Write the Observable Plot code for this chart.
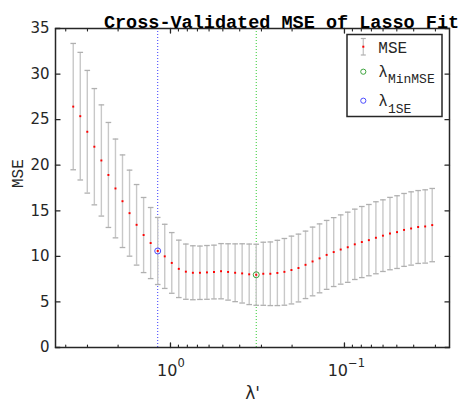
<!DOCTYPE html>
<html>
<head>
<meta charset="utf-8">
<script src="https://cdn.jsdelivr.net/npm/d3@7"></script>
<script src="https://cdn.jsdelivr.net/npm/@observablehq/plot@0.6"></script>
<style>
  html, body { margin: 0; padding: 0; background: #fff; }
  svg { display: block; }
</style>
</head>
<body>
<div id="chart"></div>
<script>
// ---- data ----
const lambda = [3.622, 3.300, 3.007, 2.739, 2.496, 2.274, 2.071, 1.887, 1.719, 1.566,
  1.427, 1.300, 1.184, 1.079, 0.9831, 0.8956, 0.8158, 0.7434, 0.6771, 0.6171,
  0.5623, 0.5120, 0.4666, 0.4250, 0.3873, 0.3528, 0.3214, 0.2928, 0.2667, 0.2430,
  0.2214, 0.2017, 0.1838, 0.1674, 0.1525, 0.1390, 0.1266, 0.1153, 0.1051, 0.09574,
  0.08722, 0.07945, 0.07238, 0.06595, 0.06009, 0.05474, 0.04986, 0.04544, 0.04139, 0.03771,
  0.03436, 0.03130];
const mse = [26.43, 25.38, 23.67, 22.03, 20.52, 18.93, 17.45, 16.05, 14.74, 13.46,
  12.34, 11.46, 10.59, 10.00, 9.28, 8.63, 8.32, 8.20, 8.20, 8.24,
  8.28, 8.37, 8.29, 8.20, 8.13, 8.03, 7.98, 8.09, 8.09, 8.18,
  8.30, 8.50, 8.72, 9.07, 9.44, 9.78, 10.16, 10.47, 10.75, 11.00,
  11.32, 11.57, 11.78, 12.04, 12.27, 12.50, 12.66, 12.90, 13.06, 13.22,
  13.28, 13.43];
const se = [6.93, 7.00, 6.73, 6.38, 6.10, 5.76, 5.42, 5.08, 4.72, 4.42,
  4.12, 3.90, 3.68, 3.52, 3.33, 3.15, 3.03, 2.96, 2.93, 2.95,
  2.95, 3.03, 3.09, 3.17, 3.25, 3.32, 3.35, 3.46, 3.49, 3.58,
  3.66, 3.72, 3.72, 3.70, 3.77, 3.78, 3.78, 3.78, 3.80, 3.85,
  3.86, 3.90, 3.91, 3.95, 3.93, 3.97, 3.99, 4.00, 4.02, 4.00,
  4.02, 4.02];
const indexMinMSE = 26;
const index1SE = 12;

const xDomain = [4.58, 0.0249];
const yDomain = [0, 35];
const yTicks = [0, 5, 10, 15, 20, 25, 30, 35];
const xMajorTicks = [1, 0.1];
const xTickBase = ["10", "10"];
const xTickExponent = ["0", "−1"];
const xMinorTicks = [4, 3, 2, 0.9, 0.8, 0.7, 0.6, 0.5, 0.4, 0.3, 0.2,
  0.09, 0.08, 0.07, 0.06, 0.05, 0.04, 0.03];

const titleText = "Cross-Validated MSE of Lasso Fit";
const xLabelText = "λ'";
const yLabelText = "MSE";
const legendMain = ["MSE", "λ", "λ"];
const legendSub = ["", "MinMSE", "1SE"];

// ---- build table ----
const rows = lambda.map((l, i) => ({lambda: l, mse: mse[i], lo: mse[i] - se[i], hi: mse[i] + se[i]}));

const cap = {draw(ctx) { ctx.moveTo(-2.8, 0); ctx.lineTo(2.8, 0); }};
const tickShape = {draw(ctx, l) { ctx.moveTo(0, 0); ctx.lineTo(0, -l); }};
const axisColor = "#262626";
const monoFont = "'Liberation Mono', 'DejaVu Sans Mono', monospace";

// inward tick marks drawn as short vectors anchored on the frame
function ticksX(values, anchor, len, sw) {
  return Plot.vector(values, {x: d => d, frameAnchor: anchor, rotate: anchor === "bottom" ? 0 : 180,
    length: len, anchor: "start", shape: tickShape, stroke: axisColor, strokeWidth: sw});
}
function ticksY(values, anchor, len, sw) {
  return Plot.vector(values, {y: d => d, frameAnchor: anchor, rotate: anchor === "left" ? 90 : -90,
    length: len, anchor: "start", shape: tickShape, stroke: axisColor, strokeWidth: sw});
}
// x tick labels: base "10" + superscript exponent; the pair is centred on the tick
const expOffset = [7, 3.6];
const xTickLabelMarks = xMajorTicks.flatMap((t, i) => [
  Plot.text([t], {x: d => d, text: () => xTickBase[i], frameAnchor: "bottom", lineAnchor: "bottom",
    textAnchor: "end", dx: expOffset[i], dy: 28, fontSize: 16, fill: axisColor}),
  Plot.text([t], {x: d => d, text: () => xTickExponent[i], frameAnchor: "bottom", lineAnchor: "bottom",
    textAnchor: "start", dx: expOffset[i], dy: 19.5, fontSize: 11.5, fill: axisColor})
]);

const chart = Plot.plot({
  width: 462,
  height: 401,
  marginLeft: 55,
  marginRight: 13,
  marginTop: 28,
  marginBottom: 54,
  style: {fontFamily: "DejaVu Sans", fontSize: "15px", color: axisColor, background: "white", overflow: "visible"},
  x: {type: "log", domain: xDomain, label: null, axis: null},
  y: {domain: yDomain, label: null, axis: null},
  marks: [
    Plot.ruleX([lambda[index1SE]], {x: d => d, stroke: "#3a3aff", strokeWidth: 1, strokeDasharray: "1,2"}),
    Plot.ruleX([lambda[indexMinMSE]], {x: d => d, stroke: "#33cc33", strokeWidth: 1, strokeDasharray: "1,2"}),
    Plot.ruleX(rows, {x: "lambda", y1: "lo", y2: "hi", stroke: "#c8c8c8", strokeWidth: 1.4}),
    Plot.dot(rows, {x: "lambda", y: "hi", symbol: cap, r: 3, stroke: "#b0b0b0", strokeWidth: 1.3}),
    Plot.dot(rows, {x: "lambda", y: "lo", symbol: cap, r: 3, stroke: "#b0b0b0", strokeWidth: 1.3}),
    Plot.dot(rows, {x: "lambda", y: "mse", symbol: "square", r: 1.1, fill: "#ff0000"}),
    Plot.dot([rows[index1SE]], {x: "lambda", y: "mse", r: 3, stroke: "#3a3aff", strokeWidth: 0.9}),
    Plot.dot([rows[indexMinMSE]], {x: "lambda", y: "mse", r: 3, stroke: "#2a9a2a", strokeWidth: 0.9}),
    Plot.frame({stroke: axisColor, strokeWidth: 1.5}),
    ticksX(xMajorTicks, "bottom", 4.5, 1.3),
    ticksX(xMinorTicks, "bottom", 2.5, 1.1),
    ticksX(xMajorTicks, "top", 4.5, 1.3),
    ticksX(xMinorTicks, "top", 2.5, 1.1),
    ticksY(yTicks, "left", 4.5, 1.3),
    ticksY(yTicks, "right", 4.5, 1.3),
    // tick labels
    ...xTickLabelMarks,
    Plot.axisY(yTicks, {anchor: "left", tickSize: 0, tickPadding: 6, tickFormat: d => String(d), label: null, fontSize: 15, fill: axisColor}),
    // title and axis labels
    Plot.text([titleText], {text: d => d, frameAnchor: "top", dx: 29, dy: -14, fontFamily: monoFont, fontWeight: "bold", fontSize: 18.5, fill: "#000"}),
    Plot.text([yLabelText], {text: d => d, frameAnchor: "left", rotate: -90, dx: -38, fontFamily: monoFont, fontSize: 16, fill: axisColor}),
    Plot.text([xLabelText], {text: d => d, frameAnchor: "bottom", lineAnchor: "bottom", dy: 51, fontSize: 17, fill: axisColor})
  ]
});

// ---- legend (inside the axes, upper right) ----
const svg = d3.select(chart);
const lg = svg.append("g").attr("class", "legend").style("text-anchor", "start");
lg.append("rect").attr("x", 347).attr("y", 34.5).attr("width", 95).attr("height", 82)
  .attr("fill", "#fff").attr("stroke", axisColor).attr("stroke-width", 1.5);
// MSE errorbar icon
lg.append("line").attr("x1", 363.3).attr("x2", 363.3).attr("y1", 38.5).attr("y2", 55)
  .attr("stroke", "#c8c8c8").attr("stroke-width", 1.4);
[38.5, 55].forEach(y => lg.append("line").attr("x1", 360.8).attr("x2", 365.8).attr("y1", y).attr("y2", y)
  .attr("stroke", "#b0b0b0").attr("stroke-width", 1.2));
lg.append("rect").attr("x", 362.3).attr("y", 45.7).attr("width", 2).attr("height", 2).attr("fill", "#ff0000");
lg.append("circle").attr("cx", 363.3).attr("cy", 71.7).attr("r", 2.6).attr("fill", "none").attr("stroke", "#2a9a2a").attr("stroke-width", 0.9);
lg.append("circle").attr("cx", 363.3).attr("cy", 100.7).attr("r", 2.6).attr("fill", "none").attr("stroke", "#3a3aff").attr("stroke-width", 0.9);
const baselines = [53, 76.5, 106];
legendMain.forEach((m, i) => {
  const t = lg.append("text").attr("x", 378.3).attr("y", baselines[i])
    .style("text-anchor", "start").style("font-family", monoFont).style("font-size", "16px").attr("fill", axisColor);
  t.append("tspan").text(m);
  if (legendSub[i]) t.append("tspan").attr("dy", 6.8).style("font-size", "13px").text(legendSub[i]);
});

document.getElementById("chart").appendChild(chart);
</script>
</body>
</html>
